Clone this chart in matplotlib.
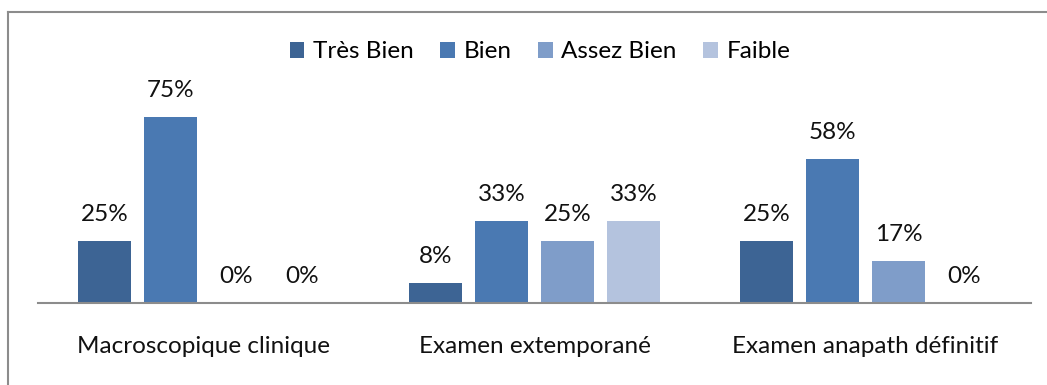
import numpy as np
import matplotlib.pyplot as plt
from matplotlib.lines import Line2D
from matplotlib.patches import Patch

plt.rcParams['font.family'] = ['Lato', 'DejaVu Sans']

categories = ['Macroscopique clinique', 'Examen extemporané', 'Examen anapath définitif']
series_names = ['Très Bien', 'Bien', 'Assez Bien', 'Faible']
tres_bien = [25, 8, 25]
bien = [75, 33, 58]
assez_bien = [0, 25, 17]
faible = [0, 33, 0]
colors = ['#3D6494', '#4A79B2', '#7F9DC9', '#B4C3DE']

FS = 17.5
W, H = 1047, 385
fig = plt.figure(figsize=(W / 100, H / 100), dpi=100)
ax = fig.add_axes([38 / W, 82 / H, (1031 - 38) / W, 248 / H])

series = [tres_bien, bien, assez_bien, faible]
x = np.arange(len(categories))
bar_w = 53 / 331
pitch = 66 / 331
for i, (vals, col) in enumerate(zip(series, colors)):
    pos = x + (i - 1.5) * pitch
    bars = ax.bar(pos, vals, width=bar_w, color=col, edgecolor='none')
    for b, v in zip(bars, vals):
        ax.annotate(f'{v}%', (b.get_x() + b.get_width() / 2, v),
                    xytext=(0, 19), textcoords='offset points',
                    ha='center', va='center', fontsize=FS, color='#111111')

ax.set_xlim(-0.5, len(categories) - 0.5)
ax.set_ylim(0, 100)
ax.set_yticks([])
ax.set_xticks(x)
ax.set_xticklabels(categories, fontsize=FS, color='#111111')
ax.tick_params(axis='x', length=0, pad=24)
for s in ['top', 'left', 'right']:
    ax.spines[s].set_visible(False)
ax.spines['bottom'].set_color('#8C8C8C')
ax.spines['bottom'].set_linewidth(1.5)

handles = [Patch(facecolor=c, edgecolor='none') for c in colors]
fig.legend(handles, series_names, loc='center', bbox_to_anchor=(540 / W, 1 - 52 / H),
           ncol=4, frameon=False, fontsize=FS, handlelength=0.6, handleheight=0.6,
           handletextpad=0.35, columnspacing=1.1)

# chart border (left and top edges)
fig.add_artist(Line2D([8 / W, 8 / W], [0, 1 - 12 / H], color='#8C8C8C', lw=1.5))
fig.add_artist(Line2D([8 / W, 1], [1 - 12 / H, 1 - 12 / H], color='#8C8C8C', lw=1.5))

fig.savefig('out.png', dpi=100)
